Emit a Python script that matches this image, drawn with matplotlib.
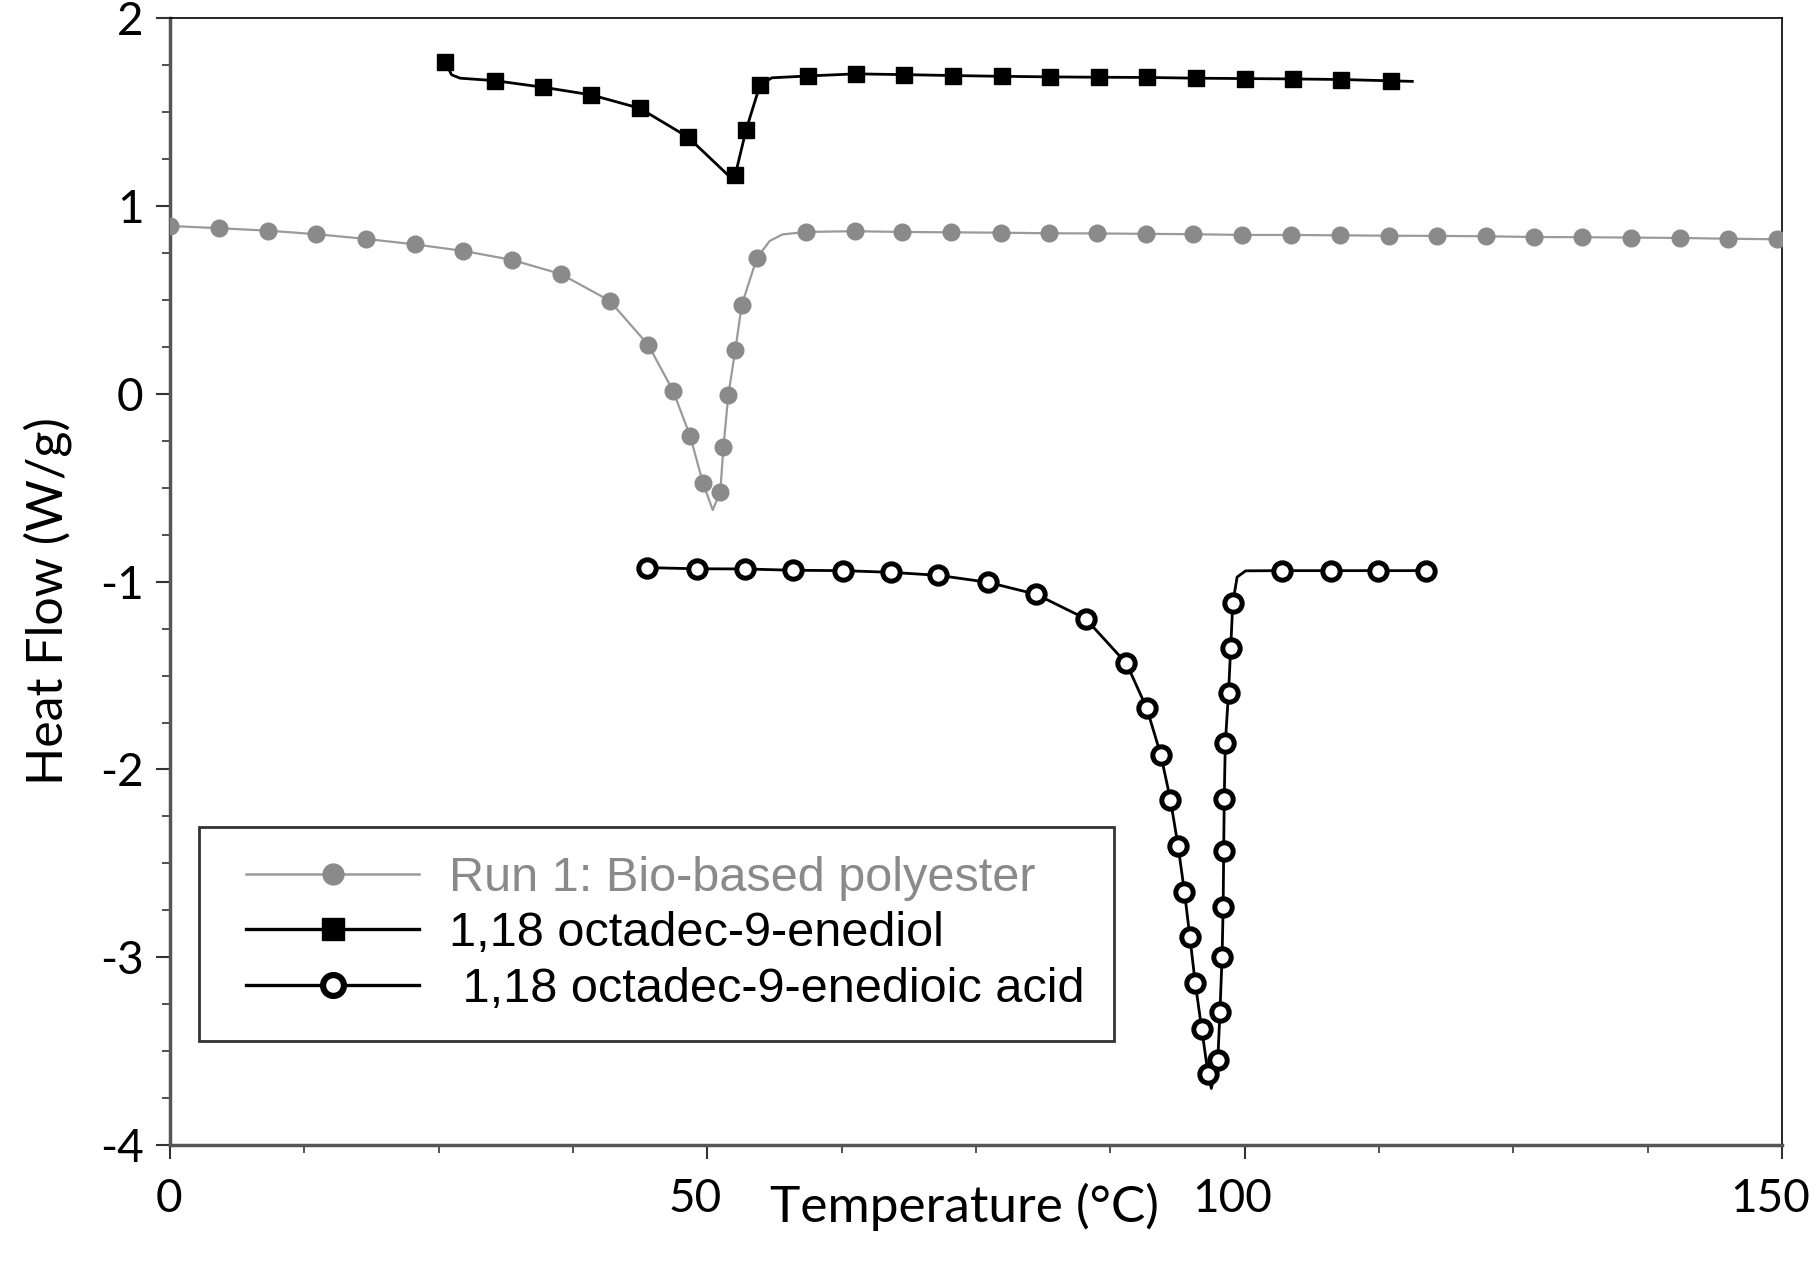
import numpy as np
import matplotlib
matplotlib.use("Agg")
import matplotlib.pyplot as plt
from matplotlib.transforms import ScaledTranslation
from matplotlib.legend_handler import HandlerLine2D
from matplotlib.lines import Line2D

plt.rcParams["axes.unicode_minus"] = False

# ---- data ----
# Run 1: Bio-based polyester (grey circles)
poly_T = [0.0, 4.53, 9.07, 13.61, 18.21, 22.75, 27.29, 31.83, 36.36, 40.9,
          44.5, 46.8, 48.4, 49.6, 51.2, 51.5, 51.95, 52.6, 53.2, 54.6,
          59.2, 63.7, 68.1, 72.7, 77.3, 81.8, 86.3, 90.8, 95.2, 99.8,
          104.3, 108.9, 113.4, 117.9, 122.5, 126.9, 131.4, 136.0, 140.5, 145.0, 149.5]
poly_HF = [0.895, 0.883, 0.870, 0.851, 0.826, 0.797, 0.762, 0.714, 0.639, 0.497,
           0.261, 0.018, -0.224, -0.476, -0.522, -0.281, -0.005, 0.234, 0.474, 0.723,
           0.863, 0.867, 0.863, 0.861, 0.859, 0.856, 0.855, 0.853, 0.851, 0.847,
           0.847, 0.845, 0.843, 0.842, 0.840, 0.836, 0.835, 0.833, 0.831, 0.827, 0.824]
poly_curve_T = [50.5, 55.8, 57.0]          # extra trace points (peak tip, knee)
poly_curve_HF = [-0.618, 0.815, 0.850]

# 1,18 octadec-9-enediol (black squares)
diol_T = [25.6, 30.2, 34.7, 39.2, 43.7, 48.2, 52.6, 53.6, 54.9, 59.4, 63.8,
          68.3, 72.9, 77.4, 81.9, 86.4, 90.9, 95.5, 100.0, 104.5, 109.0, 113.6]
diol_HF = [1.767, 1.669, 1.634, 1.593, 1.522, 1.368, 1.167, 1.406, 1.646, 1.694, 1.705,
           1.701, 1.696, 1.692, 1.689, 1.687, 1.686, 1.682, 1.680, 1.678, 1.675, 1.668]
diol_curve_T = [26.2, 27.0, 52.4, 56.0, 115.6]
diol_curve_HF = [1.700, 1.682, 1.140, 1.684, 1.665]

# 1,18 octadec-9-enedioic acid (open circles)
acid_T = [44.4, 49.0, 53.5, 58.0, 62.6, 67.1, 71.5, 76.1, 80.6, 85.2, 89.0, 90.9,
          92.2, 93.1, 93.8, 94.4, 94.9, 95.4, 96.0, 96.6,
          97.5, 97.7, 97.9, 98.0, 98.05, 98.1, 98.2, 98.5, 98.7, 98.9,
          103.5, 108.0, 112.4, 116.9]
acid_HF = [-0.925, -0.931, -0.932, -0.939, -0.941, -0.950, -0.966, -1.003, -1.067, -1.197, -1.435, -1.675,
           -1.923, -2.163, -2.406, -2.652, -2.891, -3.136, -3.380, -3.623,
           -3.548, -3.294, -2.998, -2.731, -2.435, -2.158, -1.861, -1.591, -1.355, -1.112,
           -0.941, -0.941, -0.941, -0.941]
acid_curve_T = [96.9, 99.3, 100.1]
acid_curve_HF = [-3.699, -0.975, -0.942]

labels = ["Run 1: Bio-based polyester", "1,18 octadec-9-enediol",
          " 1,18 octadec-9-enedioic acid"]
x_ticks = [0, 50, 100, 150]
y_ticks = [-4, -3, -2, -1, 0, 1, 2]


def trace(T, HF, cT, cHF):
    pts = sorted(zip(list(T) + list(cT), list(HF) + list(cHF)))
    return [p[0] for p in pts], [p[1] for p in pts]


MARK_OFF = 13.0  # points


class LeftMarkerHandler(HandlerLine2D):
    def get_xdata(self, legend, xdescent, ydescent, width, height, fontsize):
        xdata = np.linspace(-xdescent + MARK_OFF, -xdescent + width, 2)
        return xdata, np.array([-xdescent + MARK_OFF])


fig = plt.figure(figsize=(18.17, 12.75), dpi=100)
ax = fig.add_axes([0.0936, 0.102, 0.8871, 0.8835])

grey = "#8a8a8a"
lT, lH = trace(poly_T, poly_HF, poly_curve_T, poly_curve_HF)
ax.plot(lT, lH, color="#9a9a9a", lw=1.6, zorder=2)
ax.plot(poly_T, poly_HF, ls="none", marker="o", ms=12, mfc=grey, mec=grey, zorder=3)

lT, lH = trace(diol_T, diol_HF, diol_curve_T, diol_curve_HF)
ax.plot(lT, lH, color="black", lw=2.0, zorder=2)
ax.plot(diol_T, diol_HF, ls="none", marker="s", ms=12, mfc="black", mec="black", zorder=3)

lT, lH = trace(acid_T, acid_HF, acid_curve_T, acid_curve_HF)
ax.plot(lT, lH, color="black", lw=2.0, zorder=2)
ax.plot(acid_T, acid_HF, ls="none", marker="o", ms=12.5, mfc="white", mec="black",
        mew=3.6, zorder=3)

h1 = Line2D([], [], color="#9a9a9a", lw=1.8, marker="o", ms=15, mfc=grey, mec=grey)
h2 = Line2D([], [], color="black", lw=2.4, marker="s", ms=16, mfc="black", mec="black")
h3 = Line2D([], [], color="black", lw=2.4, marker="o", ms=15, mfc="white", mec="black", mew=4.5)
leg = ax.legend([h1, h2, h3], labels, loc="lower left",
                bbox_to_anchor=(0.018, 0.092),
                prop={"family": "Liberation Sans", "size": 35},
                handlelength=3.93, handletextpad=0.62, labelspacing=0.22,
                borderpad=0.6, borderaxespad=0, frameon=True, fancybox=False,
                edgecolor="black", numpoints=1,
                handler_map={Line2D: LeftMarkerHandler(numpoints=1)})
leg.get_frame().set_linewidth(2.0)
leg.get_texts()[0].set_color(grey)

ax.set_xlim(0, 150)
ax.set_ylim(-4, 2)
ax.set_xticks(x_ticks)
ax.set_yticks(y_ticks)
ax.set_xticks(np.arange(0, 150.1, 12.5), minor=True)
ax.set_yticks(np.arange(-4, 2.01, 0.25), minor=True)
ax.tick_params(axis="both", which="major", direction="out", length=10, width=1.5,
               color="#333333", labelsize=33)
ax.tick_params(axis="both", which="minor", direction="out", length=6, width=1.2,
               color="#333333")
ax.tick_params(axis="x", pad=14)
ax.tick_params(axis="y", pad=9)
for lab in ax.get_xticklabels() + ax.get_yticklabels():
    lab.set_family("Lato")
# the reference's x tick labels sit slightly left of their ticks
for i, lab in enumerate(ax.get_xticklabels()):
    dx = -0.01 if i == 0 else -0.12
    lab.set_transform(lab.get_transform() + ScaledTranslation(dx, 0, fig.dpi_scale_trans))

for side in ["left", "bottom"]:
    ax.spines[side].set_color("#555555")
    ax.spines[side].set_linewidth(2.5)
for side in ["top", "right"]:
    ax.spines[side].set_color("black")
    ax.spines[side].set_linewidth(1.2)

ax.set_xlabel("Temperature (°C)", fontsize=37, family="Lato", va="top")
ax.xaxis.set_label_coords(0.493, -0.034)
ax.set_ylabel("Heat Flow (W/g)", fontsize=36, family="Lato", va="center")
ax.yaxis.set_label_coords(-0.076, 0.483)

fig.savefig("out.png", dpi=100)
